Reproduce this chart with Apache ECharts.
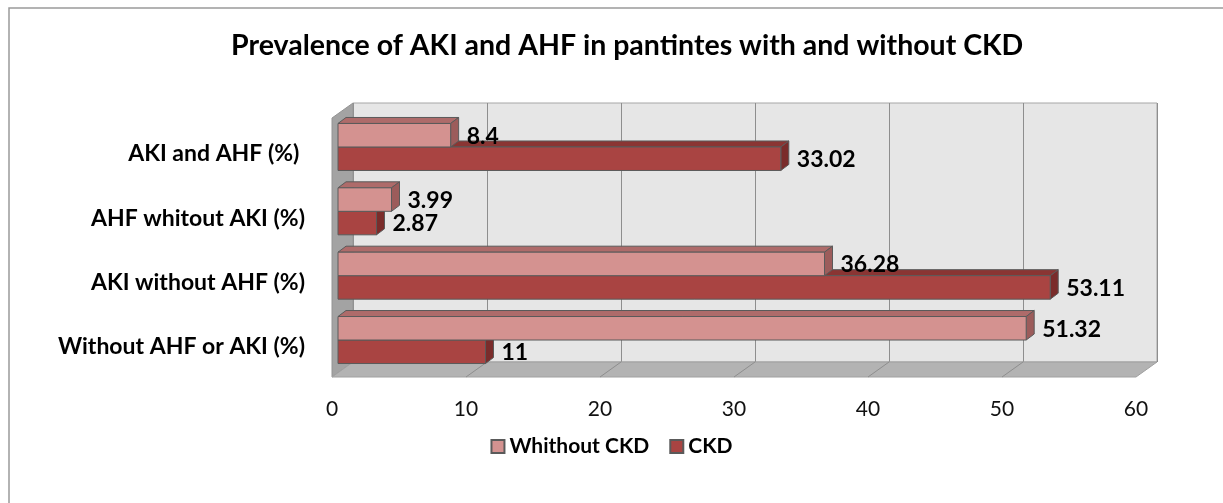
<!DOCTYPE html>
<html><head><meta charset="utf-8">
<script src="https://cdn.jsdelivr.net/npm/echarts@6/dist/echarts.min.js"></script>
<style>html,body{margin:0;padding:0;background:#fff}#c{width:1223px;height:503px}</style>
</head><body><div id="c"></div>
<script>
// ---- data ----
const categories = ['Without AHF or AKI (%)', 'AKI without AHF (%)', 'AHF whitout AKI (%)', 'AKI and AHF (%) '];
const withoutCKD = [51.32, 36.28, 3.99, 8.4];
const ckd = [11, 53.11, 2.87, 33.02];
const seriesNames = ['Whithout CKD', 'CKD'];
const axisMin = 0, axisMax = 60, axisStep = 10;
const titleText = 'Prevalence of AKI and AHF in pantintes with and without CKD';

// ---- styles ----
const FONT = 'Lato, "Noto Sans", sans-serif';
const DX = 8, DY = 6, BH = 23.5;
const STROKE = '#5a5a5a';
const lightCol = { front: '#D49290', top: '#AE6B6A', side: '#9C5C5B' };
const darkCol = { front: '#A94442', top: '#8A3533', side: '#7A2C2B' };

function makeRender(isLight, col) {
  return function (params, api) {
    const v = api.value(0), c = api.value(1);
    const p0 = api.coord([0, c]);
    const p1 = api.coord([v, c]);
    const cy = p0[1];
    const top = isLight ? cy - BH : cy;
    const bot = top + BH;
    const x0 = p0[0], x1 = p1[0];
    return {
      type: 'group',
      children: [
        { type: 'polygon', shape: { points: [[x0, top], [x0 + DX, top - DY], [x1 + DX, top - DY], [x1, top]] },
          style: { fill: col.top, stroke: STROKE, lineWidth: 1 } },
        { type: 'polygon', shape: { points: [[x1, top], [x1 + DX, top - DY], [x1 + DX, bot - DY], [x1, bot]] },
          style: { fill: col.side, stroke: STROKE, lineWidth: 1 } },
        { type: 'rect', shape: { x: x0, y: top, width: x1 - x0, height: BH },
          style: { fill: col.front, stroke: STROKE, lineWidth: 1 } },
        { type: 'text', x: x1 + DX + 8, y: (top + bot) / 2 + 1,
          style: { text: String(v), fill: '#000', font: 'bold 23px ' + FONT, align: 'left', verticalAlign: 'middle' } }
      ]
    };
  };
}

const chart = echarts.init(document.getElementById('c'));
const option = {
  animation: false,
  backgroundColor: '#fff',
  title: {
    text: titleText, left: 226, top: 26,
    textStyle: { fontFamily: FONT, fontWeight: 'bold', fontSize: 28.5, color: '#000' }
  },
  legend: {
    data: seriesNames, left: 'center', top: 431, icon: 'rect',
    itemWidth: 13, itemHeight: 13, itemGap: 20,
    textStyle: { fontFamily: FONT, fontWeight: 'bold', fontSize: 21, color: '#000' }
  },
  grid: [
    { left: 338, width: 804.6, top: 114.8, height: 257.4 },
    { left: 353, width: 804, top: 103, height: 259, show: true, backgroundColor: '#E6E6E6', borderColor: '#A6A6A6', borderWidth: 1 },
    { left: 332, width: 804, top: 118, height: 259 },
    { left: 338, width: 804.6, top: 121.8, height: 257.4 }
  ],
  xAxis: [
    { gridIndex: 0, type: 'value', min: axisMin, max: axisMax, show: false },
    { gridIndex: 1, type: 'value', min: axisMin, max: axisMax, interval: axisStep,
      axisLine: { show: false }, axisTick: { show: false }, axisLabel: { show: false },
      splitLine: { show: true, lineStyle: { color: '#8E8E8E', width: 1 } } },
    { gridIndex: 2, type: 'value', min: axisMin, max: axisMax, interval: axisStep,
      axisLine: { show: false }, axisTick: { show: false }, splitLine: { show: false },
      axisLabel: { margin: 22, fontFamily: FONT, fontSize: 21, color: '#111' } },
    { gridIndex: 3, type: 'value', min: axisMin, max: axisMax, show: false }
  ],
  yAxis: [
    { gridIndex: 0, type: 'category', data: categories, show: false },
    { gridIndex: 1, type: 'value', min: 0, max: 1, show: false },
    { gridIndex: 2, type: 'value', min: 0, max: 1, show: false },
    { gridIndex: 3, type: 'category', data: categories,
      axisLine: { show: false }, axisTick: { show: false }, splitLine: { show: false },
      axisLabel: { margin: 33, fontFamily: FONT, fontWeight: 'bold', fontSize: 23, color: '#000' } }
  ],
  series: [
    { name: seriesNames[1], type: 'custom', xAxisIndex: 0, yAxisIndex: 0, z: 3,
      itemStyle: { color: darkCol.front, borderColor: STROKE, borderWidth: 1 },
      encode: { x: 0, y: 1 },
      data: ckd.map((v, i) => [v, i]),
      renderItem: makeRender(false, darkCol) },
    { name: seriesNames[0], type: 'custom', xAxisIndex: 0, yAxisIndex: 0, z: 4,
      itemStyle: { color: lightCol.front, borderColor: STROKE, borderWidth: 1 },
      encode: { x: 0, y: 1 },
      data: withoutCKD.map((v, i) => [v, i]),
      renderItem: makeRender(true, lightCol) }
  ]
};
chart.setOption(option);

// walls and floor derived from the axes
const back = (v, t) => chart.convertToPixel({ gridIndex: 1 }, [v, t]);
const front = (v, t) => chart.convertToPixel({ gridIndex: 2 }, [v, t]);
const gfx = [];
gfx.push({ type: 'polygon', z: 1, shape: { points: [back(axisMin, 1), back(axisMin, 0), front(axisMin, 0), front(axisMin, 1)] },
  style: { fill: '#A3A3A3', stroke: '#949494', lineWidth: 1 } });
gfx.push({ type: 'polygon', z: 1, shape: { points: [front(axisMin, 0), front(axisMax, 0), back(axisMax, 0), back(axisMin, 0)] },
  style: { fill: '#B3B3B3', stroke: '#A0A0A0', lineWidth: 1 } });
for (let v = axisMin + axisStep; v < axisMax; v += axisStep) {
  const a = back(v, 0), b = front(v, 0);
  gfx.push({ type: 'line', z: 1, shape: { x1: a[0], y1: a[1], x2: b[0], y2: b[1] }, style: { stroke: '#8E8E8E', lineWidth: 1 } });
}
gfx.push({ type: 'rect', z: 0, silent: true, shape: { x: 9, y: 8, width: 1300, height: 600 },
  style: { fill: 'none', stroke: '#9A9A9A', lineWidth: 1.5 } });
chart.setOption({ graphic: gfx });
</script></body></html>
